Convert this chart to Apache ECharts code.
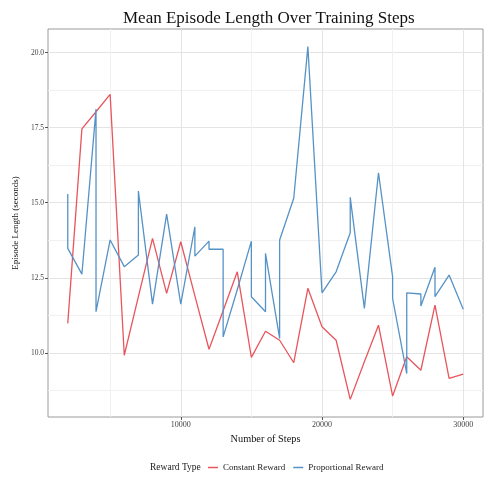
<!DOCTYPE html>
<html><head><meta charset="utf-8">
<script src="https://cdn.jsdelivr.net/npm/echarts@6/dist/echarts.min.js"></script>
<style>html,body{margin:0;padding:0;background:#fff}#c{width:490px;height:481px}</style>
</head><body><div id="c"></div>
<script>
const titleText = 'Mean Episode Length Over Training Steps';
const xName = 'Number of Steps';
const yName = 'Episode Length (seconds)';
const legendTitle = 'Reward Type';
const seriesNames = ['Constant Reward', 'Proportional Reward'];

const constantSteps = [2000,3000,4000,5000,6000,7000,8000,9000,10000,11000,12000,13000,14000,15000,16000,17000,18000,19000,20000,21000,22000,23000,24000,25000,26000,27000,28000,29000,30000];
const constantValues = [10.98,17.46,18.03,18.61,9.92,11.87,13.81,11.98,13.70,11.90,10.12,11.40,12.70,9.85,10.72,10.42,9.67,12.15,10.87,10.42,8.45,9.70,10.92,8.56,9.87,9.42,11.59,9.15,9.29];

const proportionalSteps = [2000,2000,3000,4000,4000,5000,6000,7000,7000,8000,9000,10000,11000,11000,12000,12000,13000,13000,14000,15000,15000,16000,16000,17000,17000,18000,19000,20000,21000,22000,22000,23000,24000,25000,25000,26000,26000,27000,27000,28000,28000,29000,30000];
const proportionalValues = [15.29,13.48,12.62,18.12,11.37,13.76,12.87,13.26,15.39,11.62,14.62,11.62,14.20,13.22,13.72,13.45,13.45,10.53,12.10,13.72,11.87,11.37,13.31,10.48,13.76,15.15,20.20,12.00,12.70,14.00,15.18,11.48,16.00,12.53,11.81,9.31,12.00,11.96,11.56,12.85,11.87,12.59,11.45];

const xTicks = [10000, 20000, 30000];
const xMinor = [5000, 15000, 25000];
const yTicks = [10.0, 12.5, 15.0, 17.5, 20.0];
const yMinor = [8.75, 11.25, 13.75, 16.25, 18.75];

const zip = (a, b) => a.map((v, i) => [v, b[i]]);
const FONT = '"Liberation Serif", "DejaVu Serif", serif';
const xMin = 600, xMax = 31400, yMin = 7.8625, yMax = 20.7875;

const chart = echarts.init(document.getElementById('c'), null, {renderer: 'canvas'});
chart.setOption({
  animation: false,
  backgroundColor: '#fff',
  title: [
    {text: titleText, left: 118, top: 5,
     textStyle: {fontFamily: FONT, fontSize: 17, fontWeight: 'normal', color: '#111'}},
    {text: legendTitle, left: 145, top: 457,
     textStyle: {fontFamily: FONT, fontSize: 9.5, fontWeight: 'normal', color: '#222'}}
  ],
  grid: {left: 48, right: 7, top: 29, bottom: 64, show: true, borderColor: '#9a9a9a', borderWidth: 1, backgroundColor: 'transparent'},
  legend: {
    left: 203, top: 458, itemWidth: 10, itemHeight: 1.5, itemGap: 8, icon: 'rect',
    textStyle: {fontFamily: FONT, fontSize: 9, color: '#222'},
    data: seriesNames
  },
  xAxis: [
    {type: 'value', min: xMin, max: xMax, name: xName, nameLocation: 'middle', nameGap: 15,
     nameTextStyle: {fontFamily: FONT, fontSize: 10.3, color: '#111'},
     axisLine: {show: false},
     axisTick: {show: true, length: 3, lineStyle: {color: '#555'}, customValues: xTicks},
     axisLabel: {fontFamily: FONT, fontSize: 8, color: '#444', margin: 4, customValues: xTicks,
       formatter: v => String(Math.round(v))},
     splitLine: {show: true, lineStyle: {color: '#e4e4e4', width: 1}}},
    {type: 'value', min: xMin, max: xMax, position: 'bottom', show: true,
     axisLine: {show: false}, axisTick: {show: false, customValues: xMinor},
     axisLabel: {show: false, customValues: xMinor},
     splitLine: {show: true, lineStyle: {color: '#f1f1f1', width: 1}}}
  ],
  yAxis: [
    {type: 'value', min: yMin, max: yMax, name: yName, nameLocation: 'middle', nameGap: 21,
     nameTextStyle: {fontFamily: FONT, fontSize: 9, color: '#111'},
     axisLine: {show: false},
     axisTick: {show: true, length: 3, lineStyle: {color: '#555'}, customValues: yTicks},
     axisLabel: {fontFamily: FONT, fontSize: 7.5, color: '#444', margin: 4, customValues: yTicks,
       formatter: v => Number(v).toFixed(1)},
     splitLine: {show: true, lineStyle: {color: '#e4e4e4', width: 1}}},
    {type: 'value', min: yMin, max: yMax, position: 'left', show: true,
     axisLine: {show: false}, axisTick: {show: false, customValues: yMinor},
     axisLabel: {show: false, customValues: yMinor},
     splitLine: {show: true, lineStyle: {color: '#f1f1f1', width: 1}}}
  ],
  series: [
    {name: seriesNames[0], type: 'line', xAxisIndex: 0, yAxisIndex: 0, showSymbol: false, symbol: 'none',
     data: zip(constantSteps, constantValues), color: '#E8555C',
     lineStyle: {width: 1.3, color: '#E8555C'}, z: 3},
    {name: seriesNames[1], type: 'line', xAxisIndex: 0, yAxisIndex: 0, showSymbol: false, symbol: 'none',
     data: zip(proportionalSteps, proportionalValues), color: '#5592C6',
     lineStyle: {width: 1.3, color: '#5592C6'}, z: 4}
  ]
});
</script></body></html>
